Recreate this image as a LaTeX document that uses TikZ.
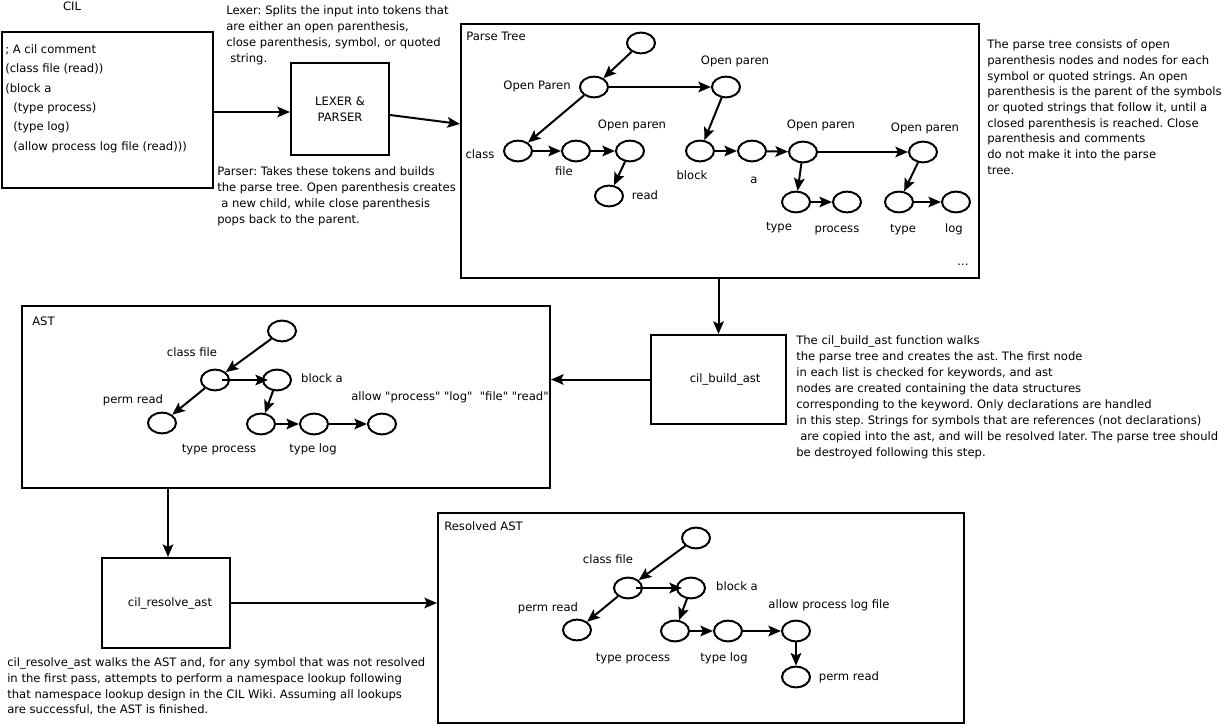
\documentclass[tikz,border=0pt]{standalone}
\usepackage{fontspec}
\setmainfont{DejaVu Sans}
\newfontfamily\qfont{DejaVu Sans}
\usetikzlibrary{arrows.meta,shapes.geometric}
\begin{document}
\frenchspacing
\begin{tikzpicture}[x=0.75pt,y=-0.75pt,
  every node/.style={font=\fontsize{8.7}{12}\selectfont},
  box/.style={draw, line width=1.5pt, rectangle, inner sep=0pt, align=center},
  nd/.style={draw, ellipse, line width=1.5pt, minimum width=21pt, minimum height=15.5pt, inner sep=0pt},
  arr/.style={line width=1.5pt, -{Stealth[length=9.5pt,width=8pt,inset=2pt]}},
  lbl/.style={inner sep=0pt, anchor=mid},
  txt/.style={inner sep=0pt, anchor=north west, align=left}]
\useasboundingbox (0,0) rectangle (1224,727);

% ---- CIL source
\node[lbl] (cillbl) at (72,7) {CIL};
\node[box, minimum width=158.25pt, minimum height=117pt] (cil) at (107.5,110) {};
\node[txt, font=\fontsize{8.7}{14.5}\selectfont] (code) at (5,44.5)
  {; A cil comment\\(class file (read))\\(block a\\\hspace*{6pt}(type process)\\\hspace*{6pt}(type log)\\\hspace*{6pt}(allow process log file (read)))};

% ---- Lexer & parser
\node[box, minimum width=73.5pt, minimum height=69pt] (lex) at (340,109) {LEXER \&\\PARSER};
\node[txt] (lextxt) at (226,5.5) {Lexer: Splits the input into tokens that\\are either an open parenthesis,\\close parenthesis, symbol, or quoted\\\hspace*{3pt}string.};
\node[txt] (partxt) at (217,166.5) {Parser: Takes these tokens and builds\\the parse tree. Open parenthesis creates\\\hspace*{3pt}a new child, while close parenthesis\\pops back to the parent.};

% ---- Parse tree
\node[box, minimum width=388.5pt, minimum height=190.5pt] (ptree) at (720,151) {};
\node[inner sep=0pt, anchor=mid west] (ptlbl) at (466,37) {Parse Tree};
\node[txt, font=\fontsize{8.7}{11.8}\selectfont] (pttxt) at (987,39.5) {The parse tree consists of open\\parenthesis nodes and nodes for each\\symbol or quoted strings. An open\\parenthesis is the parent of the symbols\\or quoted strings that follow it, until a\\closed parenthesis is reached. Close\\parenthesis and comments\\do not make it into the parse\\tree.};

\node[nd] (p0) at (641,43) {};
\node[nd] (p1) at (594,87) {};
\node[nd] (p2) at (726,87) {};
\node[nd] (pc) at (518,151) {};
\node[nd] (pf) at (576,151) {};
\node[nd] (p3) at (630,151) {};
\node[nd] (pr) at (609,196) {};
\node[nd] (pb) at (700,151) {};
\node[nd] (pa) at (752,151) {};
\node[nd] (p4) at (803,152) {};
\node[nd] (p5) at (923,152) {};
\node[nd] (pt1) at (796,202) {};
\node[nd] (pp) at (847,202) {};
\node[nd] (pt2) at (899,202) {};
\node[nd] (pl) at (956,202) {};

\node[lbl] (l1) at (537,86) {Open Paren};
\node[lbl] (l2) at (735,61) {Open paren};
\node[lbl] (l3) at (480,155) {class};
\node[lbl] (l4) at (564,172) {file};
\node[lbl] (l5) at (632,125) {Open paren};
\node[lbl] (l6) at (645,196) {read};
\node[lbl] (l7) at (692,176) {block};
\node[lbl] (l8) at (754,180) {a};
\node[lbl] (l9) at (821,125) {Open paren};
\node[lbl] (l10) at (925,128) {Open paren};
\node[lbl] (l11) at (779,227) {type};
\node[lbl] (l12) at (837,229) {process};
\node[lbl] (l13) at (903,229) {type};
\node[lbl] (l14) at (954,229) {log};
\node[lbl] (l15) at (963,262) {...};

\draw[arr] (p0) -- (p1);
\draw[arr] (p1) -- (p2);
\draw[arr] (p1) -- (pc);
\draw[arr] (pc) -- (pf);
\draw[arr] (pf) -- (p3);
\draw[arr] (p3) -- (pr);
\draw[arr] (p2) -- (pb);
\draw[arr] (pb) -- (pa);
\draw[arr] (pa) -- (p4);
\draw[arr] (p4) -- (p5);
\draw[arr] (p4) -- (pt1);
\draw[arr] (pt1) -- (pp);
\draw[arr] (p5) -- (pt2);
\draw[arr] (pt2) -- (pl);

% ---- cil_build_ast
\node[box, minimum width=101.25pt, minimum height=66.75pt] (bast) at (718.5,379.5) {\hspace*{10pt}cil\_build\_ast};
\node[txt] (basttxt) at (796,335.5) {The cil\_build\_ast function walks\\the parse tree and creates the ast. The first node\\in each list is checked for keywords, and ast\\nodes are created containing the data structures\\corresponding to the keyword. Only declarations are handled\\in this step. Strings for symbols that are references (not declarations)\\\hspace*{3pt}are copied into the ast, and will be resolved later. The parse tree should\\be destroyed following this step.};

% ---- AST
\node[box, minimum width=396pt, minimum height=136.5pt] (ast) at (286,397) {};
\node[inner sep=0pt, anchor=mid west] (astlbl) at (32,322) {AST};
\node[nd] (a0) at (282,331) {};
\node[nd] (acf) at (215,380) {};
\node[nd] (aba) at (277,380) {};
\node[nd] (apr) at (162,423) {};
\node[nd] (atp) at (261,424) {};
\node[nd] (atl) at (314,424) {};
\node[nd] (aal) at (382,424) {};
\node[lbl] (al1) at (192,353) {class file};
\node[lbl] (al2) at (322,379) {block a};
\node[lbl] (al3) at (133,400) {perm read};
\node[lbl] (al4) at (219,449) {type process};
\node[lbl] (al5) at (313,449) {type log};
\node[lbl, font=\qfont\fontsize{8.7}{12}\selectfont] (al6) at (450,397) {allow "process" "log"\ \ "file" "read"};
\draw[arr] (a0) -- (acf);
\draw[arr] ([xshift=5.25pt]acf.center) -- ([xshift=-6.75pt]aba.center);
\draw[arr] (acf) -- (apr);
\draw[arr] (aba) -- (atp);
\draw[arr] (atp) -- (atl);
\draw[arr] (atl) -- (aal);

% ---- cil_resolve_ast
\node[box, minimum width=96pt, minimum height=67.5pt] (cra) at (166,603) {\hspace*{6pt}cil\_resolve\_ast};
\node[txt, font=\fontsize{8.7}{11.8}\selectfont] (cratxt) at (7,657.5) {cil\_resolve\_ast walks the AST and, for any symbol that was not resolved\\in the first pass, attempts to perform a namespace lookup following\\that namespace lookup design in the CIL Wiki. Assuming all lookups\\are successful, the AST is finished.};

% ---- Resolved AST
\node[box, minimum width=394.5pt, minimum height=157.5pt] (rast) at (701,618) {};
\node[inner sep=0pt, anchor=mid west] (rastlbl) at (444,527) {Resolved AST};
\node[nd] (r0) at (696,538) {};
\node[nd] (rcf) at (628,588) {};
\node[nd] (rba) at (691,588) {};
\node[nd] (rpr) at (577,630) {};
\node[nd] (rtp) at (675,631) {};
\node[nd] (rtl) at (728,631) {};
\node[nd] (ral) at (796,631) {};
\node[nd] (rpr2) at (796,677) {};
\node[lbl] (rl1) at (608,560) {class file};
\node[lbl] (rl2) at (737,587) {block a};
\node[lbl] (rl3) at (548,608) {perm read};
\node[lbl] (rl4) at (633,658) {type process};
\node[lbl] (rl5) at (724,658) {type log};
\node[lbl] (rl6) at (829,605) {allow process log file};
\node[lbl] (rl7) at (849,677) {perm read};
\draw[arr] (r0) -- (rcf);
\draw[arr] ([xshift=6pt]rcf.center) -- ([xshift=-6.75pt]rba.center);
\draw[arr] (rcf) -- (rpr);
\draw[arr] (rba) -- (rtp);
\draw[arr] (rtp) -- (rtl);
\draw[arr] (rtl) -- (ral);
\draw[arr] (ral) -- (rpr2);

% ---- flow arrows
\draw[arr] (cil.east |- 0,112) -- (lex.west |- 0,112);
\draw[arr] (lex.east |- 0,115) -- (ptree.west |- 0,124);
\draw[arr] (ptree.south -| bast.north) -- (bast.north);
\draw[arr] (bast.west) -- (ast.east |- bast.west);
\draw[arr] (ast.south -| 168,0) -- (cra.north -| 168,0);
\draw[arr] (cra.east) -- (rast.west |- cra.east);
\end{tikzpicture}
\end{document}
